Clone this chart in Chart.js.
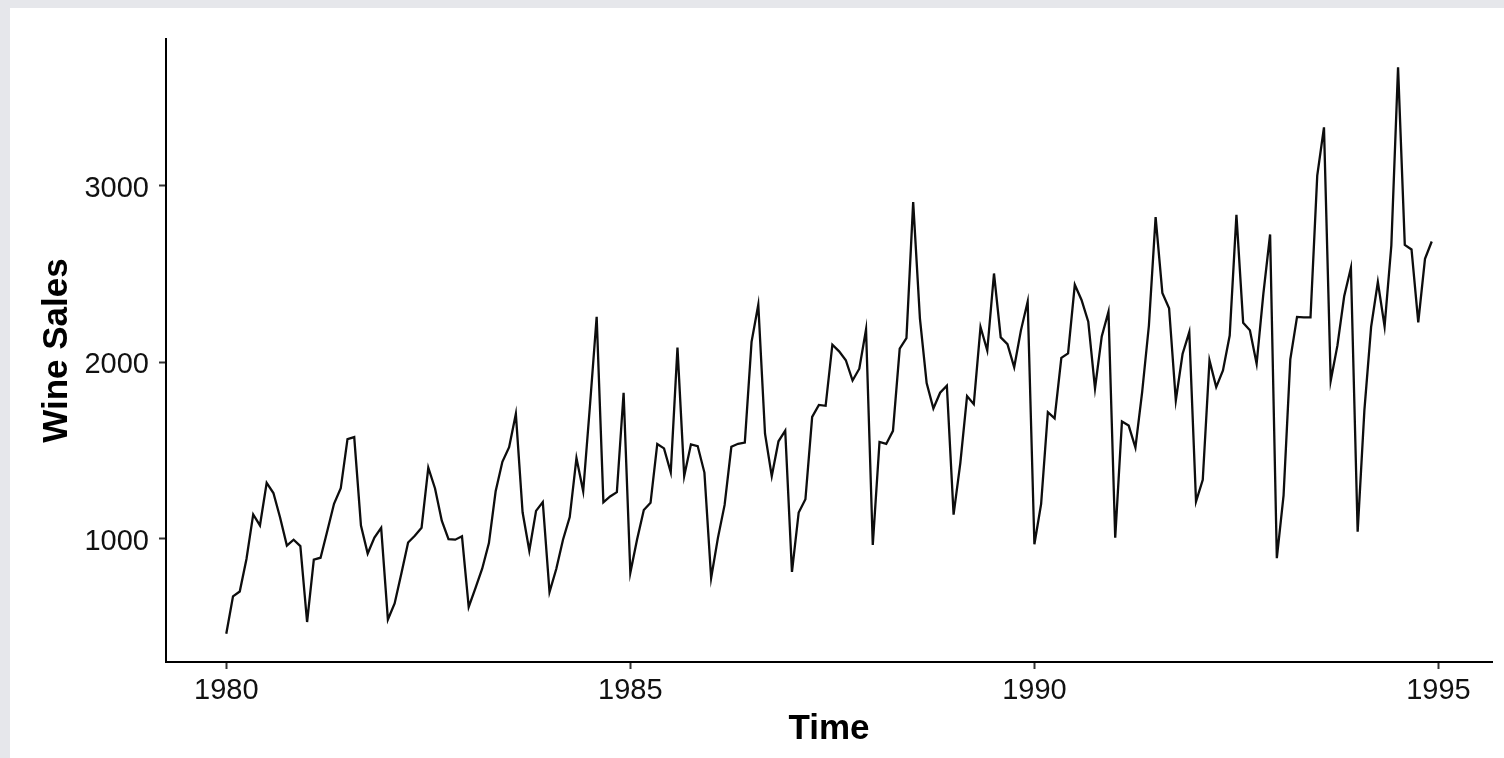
<!DOCTYPE html>
<html>
<head>
<meta charset="utf-8">
<title>Wine Sales</title>
<script src="https://cdn.jsdelivr.net/npm/chart.js@4.4.1/dist/chart.umd.min.js"></script>
<style>
    html, body { margin: 0; padding: 0; background: #e6e7eb; }
    #wrap {
        position: absolute;
        left: 10px;
        top: 8px;
        width: 1494px;
        height: 750px;
        background: #ffffff;
    }
</style>
</head>
<body>
<div id="wrap"><canvas id="salesChart"></canvas></div>
<script>
// monthly red wine sales, Jan..Dec of each year
const startYear = 1980;
const sales1980 = [464, 675, 703, 887, 1139, 1077, 1318, 1260, 1120, 963, 996, 960];
const sales1981 = [530, 883, 894, 1045, 1199, 1287, 1565, 1577, 1076, 918, 1008, 1063];
const sales1982 = [544, 635, 804, 980, 1018, 1064, 1404, 1286, 1104, 999, 996, 1015];
const sales1983 = [615, 722, 832, 977, 1270, 1437, 1520, 1708, 1151, 934, 1159, 1209];
const sales1984 = [699, 830, 996, 1124, 1458, 1270, 1753, 2258, 1208, 1241, 1265, 1828];
const sales1985 = [809, 997, 1164, 1205, 1538, 1513, 1378, 2083, 1357, 1536, 1526, 1376];
const sales1986 = [779, 1005, 1193, 1522, 1539, 1546, 2116, 2326, 1596, 1356, 1553, 1613];
const sales1987 = [814, 1150, 1225, 1691, 1759, 1754, 2100, 2062, 2012, 1897, 1964, 2186];
const sales1988 = [966, 1549, 1538, 1612, 2078, 2137, 2907, 2249, 1883, 1739, 1828, 1868];
const sales1989 = [1138, 1430, 1809, 1763, 2200, 2067, 2503, 2141, 2103, 1972, 2181, 2344];
const sales1990 = [970, 1199, 1718, 1683, 2025, 2051, 2439, 2353, 2230, 1852, 2147, 2286];
const sales1991 = [1007, 1665, 1642, 1518, 1831, 2207, 2822, 2393, 2306, 1785, 2047, 2171];
const sales1992 = [1212, 1335, 2011, 1860, 1954, 2152, 2835, 2224, 2182, 1992, 2389, 2724];
const sales1993 = [891, 1247, 2017, 2257, 2255, 2255, 3057, 3330, 1896, 2096, 2374, 2535];
const sales1994 = [1041, 1728, 2201, 2455, 2204, 2660, 3670, 2665, 2639, 2226, 2586, 2684];

const yearTicks = [1980, 1985, 1990, 1995];
const salesTicks = [1000, 2000, 3000];

const allYears = [
    sales1980, sales1981, sales1982, sales1983, sales1984,
    sales1985, sales1986, sales1987, sales1988, sales1989,
    sales1990, sales1991, sales1992, sales1993, sales1994
];

const points = allYears.flat().map((v, i) => ({ x: startYear + i / 12, y: v }));

// ggplot-style 5% expansion on both axes
function expand(lo, hi) {
    const pad = (hi - lo) * 0.05;
    return [lo - pad, hi + pad];
}
const [xMin, xMax] = expand(points[0].x, points[points.length - 1].x);
const ys = points.map(p => p.y);
const [yMin, yMax] = expand(Math.min(...ys), Math.max(...ys));

const FONT = '"Liberation Sans", Arial, sans-serif';

const ctx = document.getElementById('salesChart');
new Chart(ctx, {
    type: 'line',
    data: {
        datasets: [{
            data: points,
            borderColor: '#0d0d0d',
            borderWidth: 2.3,
            pointRadius: 0,
            tension: 0,
            fill: false
        }]
    },
    options: {
        animation: false,
        responsive: true,
        maintainAspectRatio: false,
        layout: { padding: { top: 31, right: 12, left: 0, bottom: 0 } },
        plugins: {
            legend: { display: false },
            tooltip: { enabled: false }
        },
        scales: {
            x: {
                type: 'linear',
                min: xMin,
                max: xMax,
                afterBuildTicks: axis => { axis.ticks = yearTicks.map(v => ({ value: v })); },
                afterFit: axis => { axis.height = 96; },
                grid: {
                    display: true,
                    drawOnChartArea: false,
                    drawTicks: true,
                    tickLength: 7,
                    tickColor: '#333333',
                    tickWidth: 2
                },
                border: { display: true, color: '#000000', width: 2 },
                ticks: {
                    padding: 5,
                    maxRotation: 0,
                    color: '#111111',
                    font: { family: FONT, size: 29 },
                    callback: v => String(v)
                },
                title: {
                    display: true,
                    text: 'Time',
                    color: '#000000',
                    font: { family: FONT, size: 35, weight: 'bold' },
                    padding: { top: 0, bottom: 8 }
                }
            },
            y: {
                type: 'linear',
                min: yMin,
                max: yMax,
                afterBuildTicks: axis => { axis.ticks = salesTicks.map(v => ({ value: v })); },
                afterFit: axis => { axis.width = 156; },
                grid: {
                    display: true,
                    drawOnChartArea: false,
                    drawTicks: true,
                    tickLength: 7,
                    tickColor: '#333333',
                    tickWidth: 2
                },
                border: { display: true, color: '#000000', width: 2 },
                ticks: {
                    padding: 10,
                    labelOffset: 3,
                    color: '#111111',
                    font: { family: FONT, size: 29 },
                    callback: v => String(v)
                },
                title: {
                    display: true,
                    text: 'Wine Sales',
                    color: '#000000',
                    font: { family: FONT, size: 35, weight: 'bold' },
                    padding: { top: 26, bottom: 0 }
                }
            }
        }
    }
});
</script>
</body>
</html>
